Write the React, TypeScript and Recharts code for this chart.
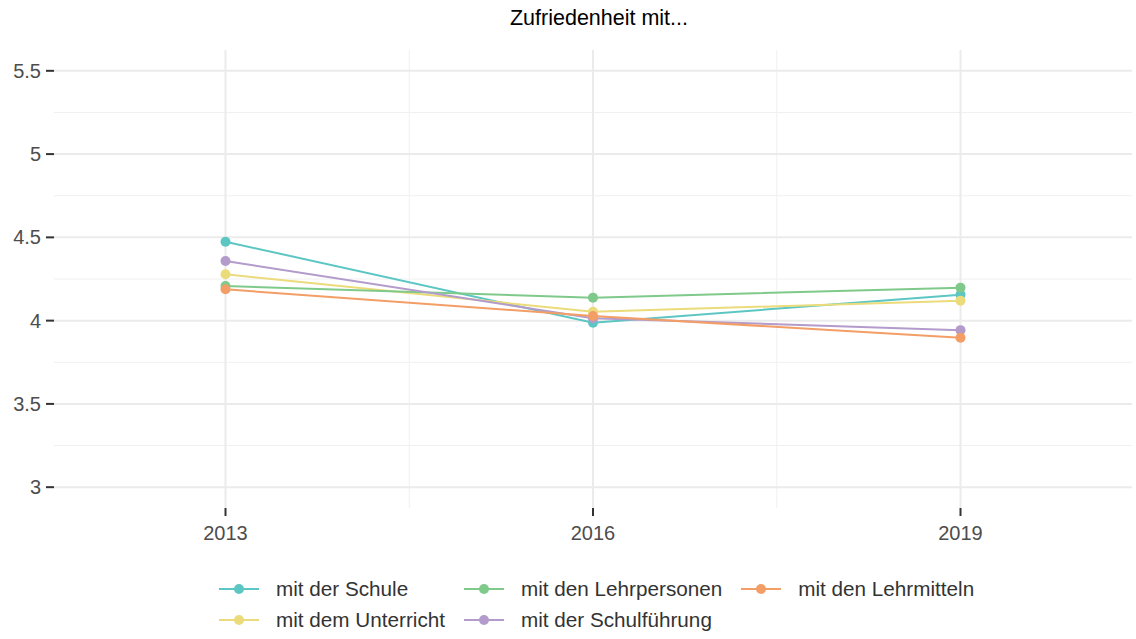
import React from "react";
import { LineChart, Line, XAxis, YAxis, ReferenceLine } from "recharts";

const years = [2013, 2016, 2019];
const yTicks = [3, 3.5, 4, 4.5, 5, 5.5];
const yMinor = [3.25, 3.75, 4.25, 4.75, 5.25];
const xMinor = [2014.5, 2017.5];

const schule = [4.474, 3.987, 4.156];
const unterricht = [4.278, 4.053, 4.12];
const lehrpersonen = [4.208, 4.138, 4.198];
const schulfuehrung = [4.358, 4.015, 3.943];
const lehrmitteln = [4.188, 4.028, 3.897];

// draw order = ggplot factor order
const series = [
  { key: "schule", name: "mit der Schule", color: "#5CC6C3", values: schule },
  { key: "unterricht", name: "mit dem Unterricht", color: "#EBDB7A", values: unterricht },
  { key: "lehrpersonen", name: "mit den Lehrpersonen", color: "#7FC98A", values: lehrpersonen },
  { key: "schulfuehrung", name: "mit der Schulführung", color: "#B39BCB", values: schulfuehrung },
  { key: "lehrmitteln", name: "mit den Lehrmitteln", color: "#F29E66", values: lehrmitteln },
];

const chartData = years.map((year, i) => {
  const row: Record<string, number> = { year };
  series.forEach((s) => {
    row[s.key] = s.values[i];
  });
  return row;
});

const FONT = '"Liberation Sans", Arial, sans-serif';
const GRID = "#EBEBEB";
const GRID_MINOR = "#F0F0F0";

function LegendBox() {
  // legend filled column-wise, 2 rows
  return (
    <div
      style={{
        position: "absolute",
        top: 573,
        left: 219,
        display: "grid",
        gridTemplateRows: "31px 31px",
        gridAutoFlow: "column",
        columnGap: 19,
      }}
    >
      {series.map((s) => (
        <div key={s.key} style={{ display: "flex", alignItems: "center", height: 31 }}>
          <svg width={40} height={20} style={{ marginRight: 17 }}>
            <line x1={0} y1={10} x2={40} y2={10} stroke={s.color} strokeWidth={2} />
            <circle cx={20} cy={10} r={5} fill={s.color} />
          </svg>
          <span
            style={{
              fontFamily: FONT,
              fontSize: 20.7,
              color: "#333333",
              whiteSpace: "nowrap",
              lineHeight: "31px",
            }}
          >
            {s.name}
          </span>
        </div>
      ))}
    </div>
  );
}

export default function App() {
  return (
    <div style={{ position: "relative", width: 1136, height: 639, background: "#fff" }}>
      <style>{`body{margin:0}`}</style>
      <div
        style={{
          position: "absolute",
          top: 8,
          left: 60,
          width: 1078,
          textAlign: "center",
          fontFamily: FONT,
          fontSize: 21.5,
          lineHeight: "21.5px",
          color: "#000",
        }}
      >
        Zufriedenheit mit...
      </div>
      <LineChart
        width={1136}
        height={639}
        data={chartData}
        margin={{ top: 50, right: 4, left: 0, bottom: 91 }}
        style={{ position: "absolute", top: 0, left: 0 }}
      >
        {yMinor.map((v) => (
          <ReferenceLine key={"ym" + v} y={v} stroke={GRID_MINOR} strokeWidth={1} />
        ))}
        {xMinor.map((v) => (
          <ReferenceLine key={"xm" + v} x={v} stroke={GRID_MINOR} strokeWidth={1} />
        ))}
        {yTicks.map((v) => (
          <ReferenceLine key={"y" + v} y={v} stroke={GRID} strokeWidth={2} />
        ))}
        {years.map((v) => (
          <ReferenceLine key={"x" + v} x={v} stroke={GRID} strokeWidth={2} />
        ))}
        <XAxis
          dataKey="year"
          type="number"
          domain={[2011.6, 2020.4]}
          ticks={years}
          allowDataOverflow
          axisLine={false}
          tickSize={8}
          tickMargin={10}
          tickLine={{ stroke: "#333333", strokeWidth: 2 }}
          tick={{ fill: "#4D4D4D", fontSize: 20, fontFamily: FONT }}
          height={40}
        />
        <YAxis
          type="number"
          domain={[2.875, 5.625]}
          ticks={yTicks}
          allowDataOverflow
          width={54}
          axisLine={false}
          tickSize={8}
          tickMargin={5}
          tickLine={{ stroke: "#333333", strokeWidth: 2 }}
          tick={{ fill: "#4D4D4D", fontSize: 20, fontFamily: FONT }}
        />
        {series.map((s) => (
          <Line
            key={s.key}
            type="linear"
            dataKey={s.key}
            name={s.name}
            stroke={s.color}
            strokeWidth={2}
            dot={{ r: 5, fill: s.color, stroke: "none" }}
            activeDot={false}
            isAnimationActive={false}
          />
        ))}
      </LineChart>
      <LegendBox />
    </div>
  );
}
